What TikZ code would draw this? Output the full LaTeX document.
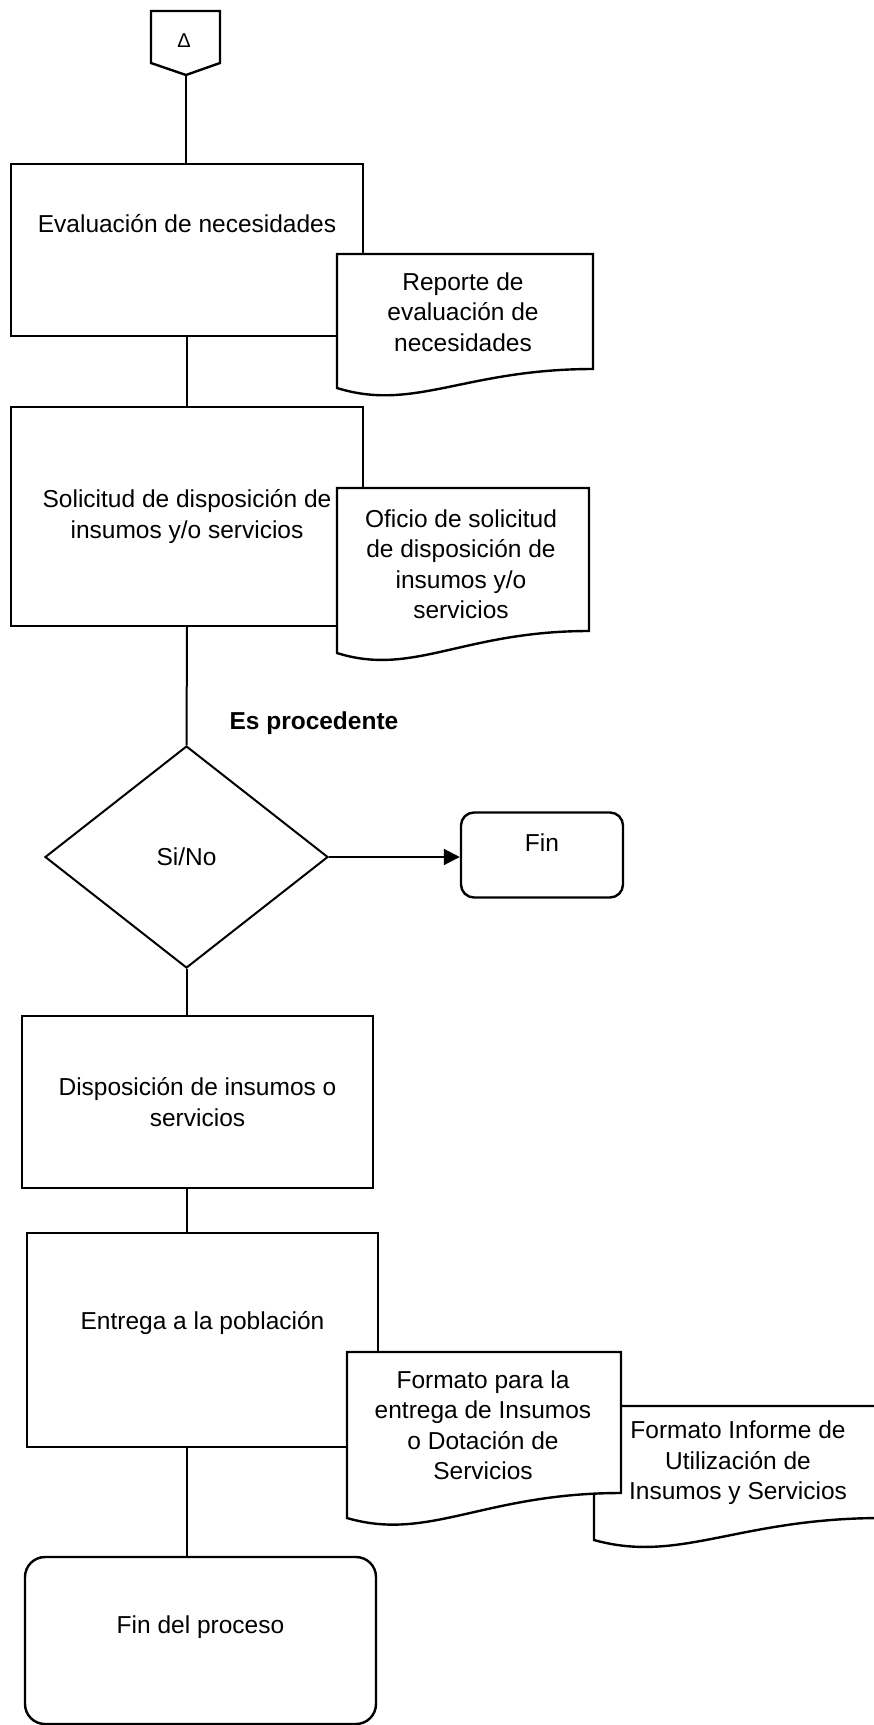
\documentclass[tikz,border=0pt]{standalone}
\usepackage{fontspec}
\setmainfont{Liberation Sans}
\usetikzlibrary{shapes.geometric,arrows.meta}

\begin{document}
\begin{tikzpicture}[x=1pt,y=-1pt,
		font=\fontsize{24.5}{30.5}\selectfont,
		caja/.style={draw,line width=2.4pt,inner sep=0pt,align=center,minimum width=352pt},
		term/.style={caja,rounded corners=#1},
		docu/.style={draw,fill=white,line width=2.4pt},
		linea/.style={line width=2pt}]
	\useasboundingbox (0,0) rectangle (874,1725);
	\clip (0,0) rectangle (874,1725);
	\draw[line width=2.4pt] (151,11) -- (220,11) -- (220,63) -- (186,75) coordinate (con) -- (151,63) -- cycle;
	\node[font=\fontsize{20}{24}\selectfont] (delta) at (184,41) {Δ};
	\node[caja,minimum height=172pt,text depth=54pt] (eval) at (187,250) {Evaluación de necesidades};
	\node[caja,minimum height=219pt] (solic) at (187,516.5) {Solicitud de disposición de\\insumos y/o servicios};
	\node[draw,diamond,line width=2pt,inner sep=0pt,minimum width=283pt,minimum height=222pt] (dec) at (186.5,857) {Si/No};
	\node[anchor=west,font=\fontsize{24.5}{30.5}\selectfont\bfseries] (proc) at (226,723) {Es procedente};
	\node[term=13pt,minimum width=162pt,minimum height=85pt,text depth=25pt] (fin) at (542,855) {Fin};
	\node[caja,minimum width=351pt,minimum height=172pt] (disp) at (197.5,1102) {Disposición de insumos o\\servicios};
	\node[caja,minimum width=351pt,minimum height=214pt,text depth=39pt] (entr) at (202.5,1340) {Entrega a la población};
	\node[term=20pt,minimum width=351pt,minimum height=167pt,text depth=32pt] (finproc) at (200.5,1640.5) {Fin del proceso};
	\draw[linea] (con) -- (con |- eval.north);
	\draw[linea] (eval.south) -- (solic.north);
	\draw[linea] (solic.south) -- (dec.north);
	\draw[linea] (dec.south) -- (dec.south |- disp.north);
	\draw[linea] (dec.south |- disp.south) -- (dec.south |- entr.north);
	\draw[linea] (dec.south |- entr.south) -- (dec.south |- finproc.north);
	\draw[linea,-{Triangle[length=16pt,width=16pt]}] (dec.east) -- (dec.east -| fin.west);
	\draw[docu] (337,254) -- (593,254) -- (593,369) .. controls (465,369) and (414,412) .. (337,388) -- cycle;
	\draw[docu] (337,488) -- (589,488) -- (589,631) .. controls (463,631) and (413,677) .. (337,653) -- cycle;
	\draw[docu] (594,1406) -- (882,1406) -- (882,1518) .. controls (738,1518) and (680,1564) .. (594,1540) -- cycle;
	\draw[docu] (347,1352) -- (621,1352) -- (621,1493) .. controls (484,1493) and (429,1542) .. (347,1518) -- cycle;
	\node[align=center] (rep) at (463,312) {Reporte de\\evaluación de\\necesidades};
	\node[align=center] (ofi) at (461,564) {Oficio de solicitud\\de disposición de\\insumos y/o\\servicios};
	\node[align=center] (fent) at (483,1425) {Formato para la\\entrega de Insumos\\o Dotación de\\Servicios};
	\node[align=center] (finf) at (738,1463) {Formato Informe de\\Utilización de\\Insumos y Servicios};
\end{tikzpicture}
\end{document}
